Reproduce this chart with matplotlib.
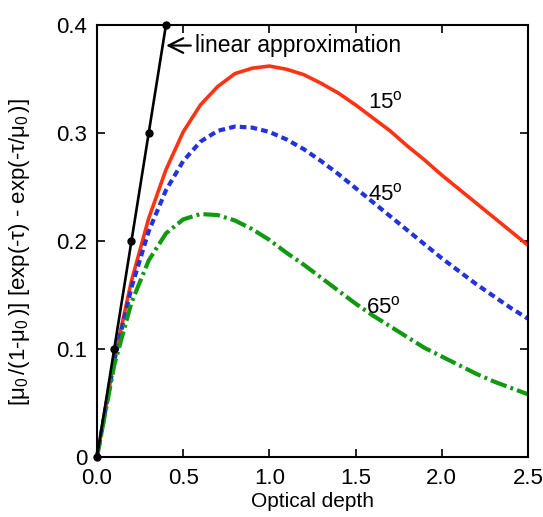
import matplotlib

matplotlib.use("Agg")
matplotlib.rc("font", **{"family": "sans-serif", "sans-serif": ["Liberation Sans"]})
matplotlib.rc("mathtext", fontset="custom", rm="Liberation Sans", it="Liberation Sans")

import matplotlib.pyplot as plt

# optical depth samples
tau = [0.0, 0.1, 0.2, 0.3, 0.4, 0.5, 0.6, 0.7, 0.8, 0.9, 1.0, 1.1, 1.2,
       1.3, 1.4, 1.5, 1.6, 1.7, 1.8, 1.9, 2.0, 2.1, 2.2, 2.3, 2.4, 2.5]

# zenith angle 15 deg
f15 = [0.0, 0.090, 0.163, 0.221, 0.266, 0.301, 0.326, 0.343, 0.355, 0.360,
       0.362, 0.359, 0.354, 0.346, 0.337, 0.326, 0.314, 0.302, 0.288, 0.275,
       0.261, 0.248, 0.235, 0.222, 0.209, 0.196]
# zenith angle 45 deg
f45 = [0.0, 0.089, 0.157, 0.209, 0.247, 0.274, 0.292, 0.302, 0.306, 0.305,
       0.301, 0.294, 0.285, 0.274, 0.262, 0.249, 0.236, 0.223, 0.210, 0.197,
       0.184, 0.172, 0.160, 0.149, 0.138, 0.128]
# zenith angle 65 deg
f65 = [0.0, 0.085, 0.143, 0.182, 0.207, 0.220, 0.225, 0.224, 0.219, 0.211,
       0.201, 0.189, 0.178, 0.166, 0.154, 0.142, 0.131, 0.121, 0.111, 0.101,
       0.093, 0.085, 0.077, 0.070, 0.064, 0.058]

# linear approximation
lin_tau = [0.0, 0.1, 0.2, 0.3, 0.4]
lin_val = [0.0, 0.1, 0.2, 0.3, 0.4]

fig = plt.figure(figsize=(5.43, 5.17), dpi=100)
ax = fig.add_axes([0.1786, 0.1161, 0.7938, 0.8355])

ax.plot(tau, f15, color="#ff3311", lw=2.6, solid_capstyle="butt", clip_on=False)
ax.plot(tau, f45, color="#2233dd", lw=3, dashes=(1.6, 1.0), clip_on=False)
ax.plot(tau, f65, color="#119911", lw=3, dashes=(4, 1, 0.7, 1), clip_on=False)
ax.plot(lin_tau, lin_val, color="black", lw=1.9, marker="o", ms=5, clip_on=False, zorder=5)

ax.annotate("", xy=(0.385, 0.381), xytext=(0.56, 0.381),
            arrowprops=dict(arrowstyle="->,head_length=0.7,head_width=0.35",
                            mutation_scale=15, color="black", lw=1.6))
ax.text(0.57, 0.381, "linear approximation", fontsize=16.5, va="center", ha="left")

ax.text(1.57, 0.323, "15$^{\\mathregular{o}}$", fontsize=16)
ax.text(1.57, 0.238, "45$^{\\mathregular{o}}$", fontsize=16)
ax.text(1.56, 0.133, "65$^{\\mathregular{o}}$", fontsize=16)

ax.set_xlim(0, 2.5)
ax.set_ylim(0, 0.4)
ax.set_xticks([0.0, 0.5, 1.0, 1.5, 2.0, 2.5])
ax.set_xticklabels(["0.0", "0.5", "1.0", "1.5", "2.0", "2.5"])
ax.set_yticks([0.0, 0.1, 0.2, 0.3, 0.4])
ax.set_yticklabels(["0", "0.1", "0.2", "0.3", "0.4"])
ax.tick_params(direction="in", top=True, right=True, length=6, width=1.2, labelsize=16)
ax.tick_params(axis="x", pad=8)
ax.tick_params(axis="y", pad=7)
for s in ax.spines.values():
    s.set_linewidth(1.5)

ax.set_xlabel("Optical depth", fontsize=15, labelpad=2)
ax.set_ylabel(r"[$\mathregular{\mu_0\,}$/(1-$\mathregular{\mu_0\,}$)] [exp(-$\mathregular{\tau}$) - exp(-$\mathregular{\tau/\mu_0\,}$)]",
              fontsize=16)
ax.yaxis.set_label_coords(-0.15, 0.475)

fig.savefig("out.png", dpi=100)
